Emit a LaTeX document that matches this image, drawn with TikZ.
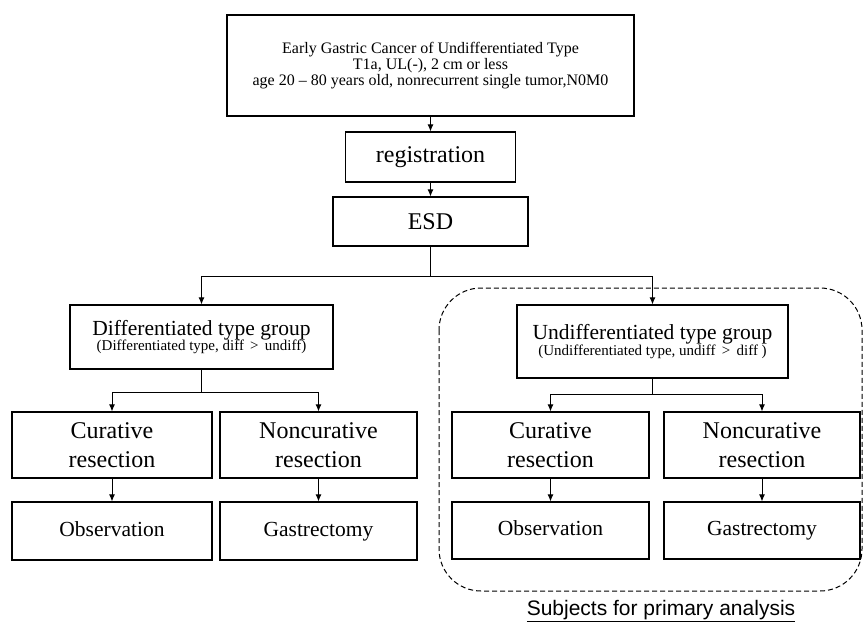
\documentclass[tikz,border=0pt]{standalone}
\usepackage{fontspec}
\setmainfont{Liberation Serif}
\newfontfamily\labelsans{Liberation Sans}
\usetikzlibrary{arrows.meta,calc}
\tikzset{
  box/.style={draw, line width=1.1pt, inner sep=0pt, align=center},
  arr/.style={line width=1pt, -{Latex[length=7pt,width=6pt]}},
  ln/.style={line width=1pt},
  dashbox/.style={line width=1pt, dash pattern=on 5pt off 3pt, rounded corners=42pt},
  fsTop/.style={font=\fontsize{16}{16}\selectfont},
  fsBig/.style={font=\fontsize{24}{29}\selectfont},
  fsMid/.style={font=\fontsize{21.5}{25}\selectfont, text height=15pt, text depth=5pt},
}
\begin{document}
\begin{tikzpicture}[x=1pt,y=-1pt]
\useasboundingbox (0,0) rectangle (865,631);
% top chain
\node[box, fsTop, minimum width=407, minimum height=101] (top) at (430.5,65.5)
  {Early Gastric Cancer of Undifferentiated Type\\T1a, UL(-), 2 cm or less\\age 20 -- 80 years old, nonrecurrent single tumor,N0M0};
\node[box, fsBig, minimum width=170, minimum height=50] (reg) at (430.5,157) {registration};
\node[box, fsBig, minimum width=195, minimum height=49] (esd) at (430.5,221.5) {ESD};
\draw[arr] (top.south) -- (reg.north);
\draw[arr] (reg.south) -- (esd.north);
% groups
\node[box, minimum width=263, minimum height=64] (diff) at (201.5,337)
  {{\fontsize{21.5}{23}\selectfont Differentiated type group}\\[-1pt]{\fontsize{15}{17}\selectfont (Differentiated type, diff \,>\, undiff)}};
\node[box, minimum width=271, minimum height=73] (undiff) at (652.5,341.5)
  {{\fontsize{21.5}{23}\selectfont Undifferentiated type group}\\[0pt]{\fontsize{15}{17}\selectfont (Undifferentiated type, undiff \,>\, diff )}};
\draw[ln] (esd.south) -- ++(0,30) coordinate (j1);
\draw[arr] (j1) -| (diff.north);
\draw[arr] (j1) -| (undiff.north);
% left branch
\node[box, fsBig, minimum width=200, minimum height=66] (lcur) at (112,445) {Curative\\resection};
\node[box, fsBig, minimum width=197, minimum height=66] (lnon) at (318.5,445) {Noncurative\\resection};
\node[box, fsMid, minimum width=200, minimum height=58] (lobs) at (112,531) {Observation};
\node[box, fsMid, minimum width=197, minimum height=58] (lgas) at (318.5,531) {Gastrectomy};
\draw[ln] (diff.south) -- ++(0,23) coordinate (j2);
\draw[arr] (j2) -| (lcur.north);
\draw[arr] (j2) -| (lnon.north);
\draw[arr] (lcur.south) -- (lobs.north);
\draw[arr] (lnon.south) -- (lgas.north);
% right branch
\node[box, fsBig, minimum width=197, minimum height=66] (rcur) at (550.5,445) {Curative\\resection};
\node[box, fsBig, minimum width=196, minimum height=66] (rnon) at (762,445) {Noncurative\\resection};
\node[box, fsMid, minimum width=197, minimum height=57] (robs) at (550.5,530.5) {Observation};
\node[box, fsMid, minimum width=196, minimum height=57] (rgas) at (762,530.5) {Gastrectomy};
\draw[ln] (undiff.south) -- ++(0,16) coordinate (j3);
\draw[arr] (j3) -| (rcur.north);
\draw[arr] (j3) -| (rnon.north);
\draw[arr] (rcur.south) -- (robs.north);
\draw[arr] (rnon.south) -- (rgas.north);
% dashed region
\draw[dashbox] (439,288) rectangle (862,591);
\node[font=\labelsans\fontsize{21}{24}\selectfont, inner sep=0pt, anchor=base] (subj) at (661,615)
  {\underline{Subjects for primary analysis}};
\end{tikzpicture}
\end{document}
